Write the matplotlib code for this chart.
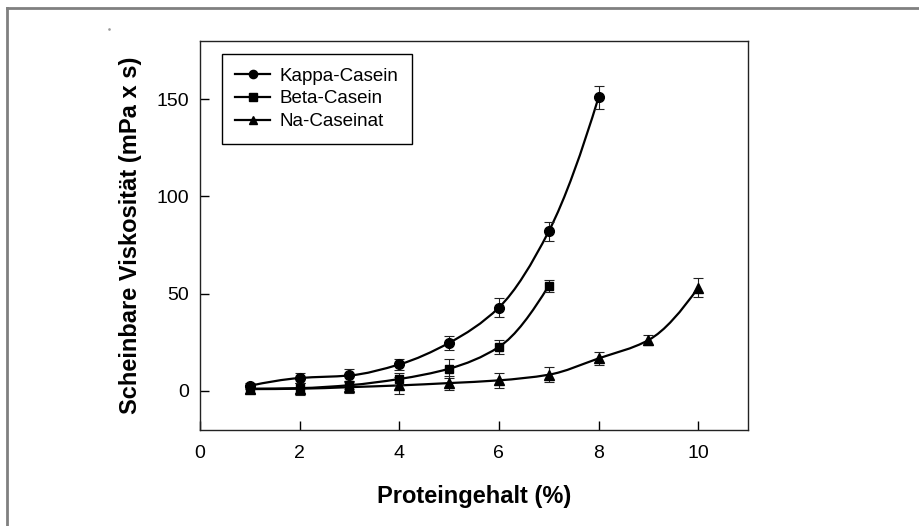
import matplotlib
matplotlib.use("Agg")
import matplotlib.pyplot as plt
import numpy as np
from matplotlib.path import Path
from matplotlib.patches import PathPatch
from matplotlib.lines import Line2D

plt.rcParams['font.family'] = ['Liberation Sans', 'DejaVu Sans']

# ---- data ----
kappa_x = [1, 2, 3, 4, 5, 6, 7, 8]
kappa_y = [2.5, 6.5, 7.8, 13.5, 24.6, 42.8, 82.0, 151.0]
kappa_err = [1.5, 2.5, 3.2, 2.8, 3.6, 5.0, 5.0, 6.0]

beta_x = [1, 2, 3, 4, 5, 6, 7]
beta_y = [1.0, 1.3, 2.8, 6.0, 11.3, 22.5, 54.0]
beta_err = [2.0, 2.5, 2.0, 3.0, 4.9, 3.8, 3.0]

na_x = [1, 2, 3, 4, 5, 6, 7, 8, 9, 10]
na_y = [0.8, 1.0, 1.8, 2.7, 3.9, 5.3, 8.2, 16.6, 26.0, 53.0]
na_err = [2.0, 3.0, 3.2, 4.2, 3.5, 3.8, 3.9, 3.2, 2.7, 4.8]

labels = ['Kappa-Casein', 'Beta-Casein', 'Na-Caseinat']
markers = ['o', 's', '^']
msizes = [7.0, 6.3, 7.5]

xticks = [0, 2, 4, 6, 8, 10]
yticks = [0, 50, 100, 150]


def pchip_slopes(x, y):
    x = np.asarray(x, float); y = np.asarray(y, float)
    h = np.diff(x); d = np.diff(y) / h
    n = len(x); m = np.zeros(n)
    for k in range(1, n - 1):
        if d[k - 1] * d[k] <= 0:
            m[k] = 0
        else:
            w1 = 2 * h[k] + h[k - 1]; w2 = h[k] + 2 * h[k - 1]
            m[k] = (w1 + w2) / (w1 / d[k - 1] + w2 / d[k])
    m[0] = d[0]; m[-1] = d[-1]
    if n > 2:
        m0 = ((2 * h[0] + h[1]) * d[0] - h[0] * d[1]) / (h[0] + h[1])
        m[0] = m0 if np.sign(m0) == np.sign(d[0]) else 0
        mn = ((2 * h[-1] + h[-2]) * d[-1] - h[-1] * d[-2]) / (h[-1] + h[-2])
        m[-1] = mn if np.sign(mn) == np.sign(d[-1]) else 0
    return m


def smooth_path(x, y):
    x = np.asarray(x, float); y = np.asarray(y, float)
    m = pchip_slopes(x, y)
    verts = [(x[0], y[0])]; codes = [Path.MOVETO]
    for k in range(len(x) - 1):
        h = x[k + 1] - x[k]
        verts += [(x[k] + h / 3, y[k] + m[k] * h / 3),
                  (x[k + 1] - h / 3, y[k + 1] - m[k + 1] * h / 3),
                  (x[k + 1], y[k + 1])]
        codes += [Path.CURVE4] * 3
    return Path(verts, codes)


fig = plt.figure(figsize=(9.2, 5.26), dpi=100)
ax = fig.add_axes([200 / 920, 1 - 429.5 / 526, 548 / 920, 388.5 / 526])

series = [(kappa_x, kappa_y, kappa_err), (beta_x, beta_y, beta_err), (na_x, na_y, na_err)]
handles = []
for (xs, ys, es), lab, mk, ms in zip(series, labels, markers, msizes):
    ax.add_patch(PathPatch(smooth_path(xs, ys), facecolor='none', edgecolor='black',
                           lw=1.6, zorder=2))
    ax.errorbar(xs, ys, yerr=es, fmt='none', ecolor='#222222', elinewidth=0.8,
                capsize=3.6, capthick=0.8, zorder=3)
    ax.plot(xs, ys, linestyle='none', marker=mk, markersize=ms, color='black', zorder=4)
    handles.append(Line2D([], [], color='black', lw=1.6, marker=mk, markersize=ms * 0.85))

ax.set_xlim(0, 11)
ax.set_ylim(-20, 180)
ax.set_xticks(xticks)
ax.set_yticks(yticks)
ax.tick_params(direction='in', length=6.5, width=1, labelsize=14, color='black')
ax.tick_params(axis='x', pad=11)
ax.tick_params(axis='y', pad=8)
for s in ax.spines.values():
    s.set_linewidth(1.0)
    s.set_color('#222222')

ax.set_xlabel('Proteingehalt (%)', fontsize=17, fontweight='bold')
ax.set_ylabel('Scheinbare Viskosität (mPa x s)', fontsize=17, fontweight='bold')
ax.xaxis.set_label_coords(0.5, (429.5 - 496) / 388.5)
ax.xaxis.label.set_va('center')
ax.yaxis.set_label_coords((131 - 200) / 548, 0.5)
ax.yaxis.label.set_va('center')

leg = ax.legend(handles, labels, loc='upper left',
                bbox_to_anchor=((222 - 200) / 548, (429.5 - 54) / 388.5),
                borderaxespad=0, fontsize=13.5, handlelength=1.85, handletextpad=0.5,
                borderpad=0.72, labelspacing=0.3, fancybox=False, shadow=False,
                framealpha=1, edgecolor='black')
leg.get_frame().set_linewidth(1.0)

# outer gray frame (top and left edges visible)
fig.add_artist(Line2D([7.5 / 920, 1.0], [1 - 7.5 / 526, 1 - 7.5 / 526],
                      transform=fig.transFigure, color='#808080', lw=2))
fig.add_artist(Line2D([7.5 / 920, 7.5 / 920], [0.0, 1 - 7.5 / 526],
                      transform=fig.transFigure, color='#808080', lw=2))
# tiny speck near the top-left corner
fig.add_artist(Line2D([109 / 920], [1 - 29 / 526], transform=fig.transFigure,
                      marker='s', markersize=0.8, color='#999999', linestyle='none'))

fig.savefig('out.png', dpi=100)
